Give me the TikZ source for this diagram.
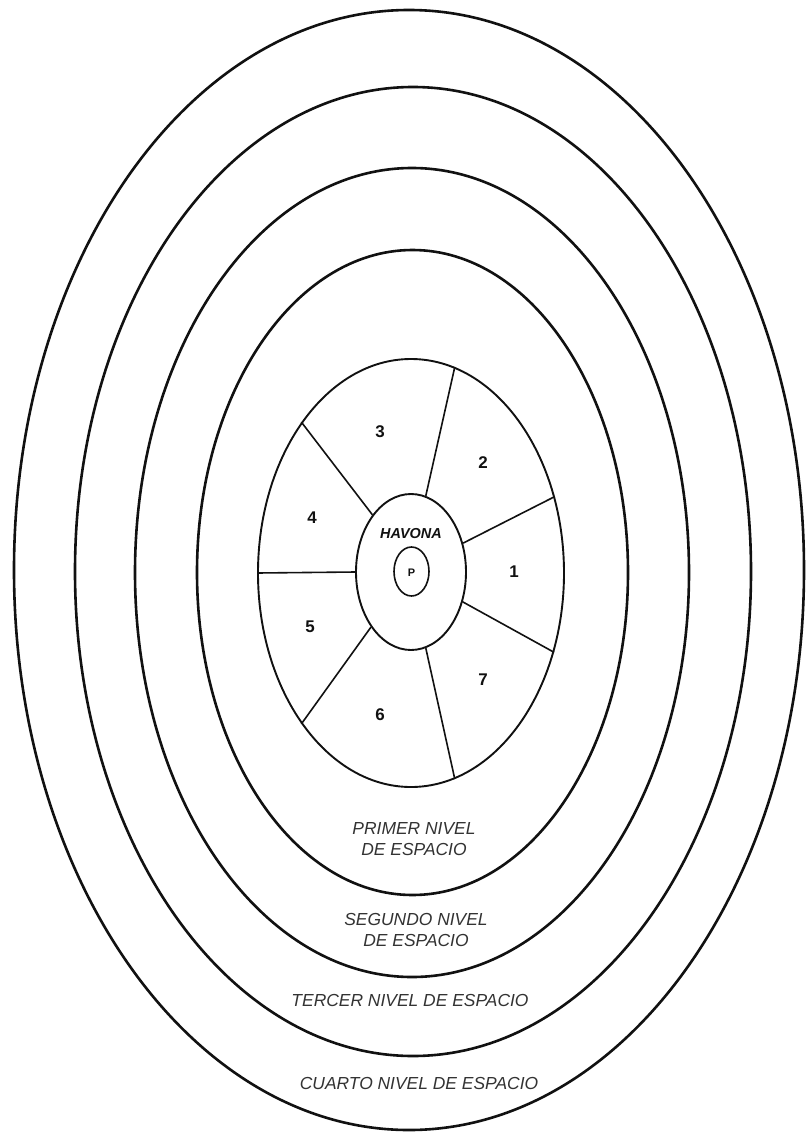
\documentclass[tikz,border=0pt]{standalone}
\usepackage{fontspec}
\setmainfont{Liberation Sans}
\usetikzlibrary{shapes.geometric}
\definecolor{ink}{HTML}{111111}
\definecolor{labelgray}{HTML}{333333}
\begin{document}
\begin{tikzpicture}[x=1bp,y=-1bp,
  ring/.style={draw=ink, ellipse, inner sep=0pt, line width=2.6bp},
  inner ring/.style={draw=ink, ellipse, inner sep=0pt, line width=1.9bp},
  divider/.style={draw=ink, line width=1.6bp},
  num/.style={font=\fontsize{17}{17}\selectfont\bfseries, text=ink},
  level/.style={font=\fontsize{17.5}{20.5}\selectfont\itshape, text=labelgray, align=center}
]
\useasboundingbox (0,0) rectangle (806,1133);
\fill[white] (0,0) rectangle (806,1133);

% space levels
\node[ring, minimum width=790bp, minimum height=1120bp] (ring1) at (409,570) {};
\node[ring, minimum width=676bp, minimum height=969bp] (ring2) at (413,571.5) {};
\node[ring, minimum width=554bp, minimum height=809bp] (ring3) at (412,572.5) {};
\node[ring, minimum width=431bp, minimum height=645bp] (ring4) at (412.5,572.5) {};

% superuniverses
\node[inner ring, minimum width=306bp, minimum height=428bp] (sector) at (411,573) {};
\node[inner ring, minimum width=110bp, minimum height=156bp] (havona) at (411,572) {};
\node[inner ring, minimum width=35bp, minimum height=49bp, line width=1.6bp] (paradise) at (411.5,571.5) {};

% dividers
\draw[divider] (havona.79) -- (sector.78);
\draw[divider] (havona.29) -- (sector.28.5);
\draw[divider] (havona.-30) -- (sector.-29.7);
\draw[divider] (havona.-79) -- (sector.-78.8);
\draw[divider] (havona.-126.6) -- (sector.-126);
\draw[divider] (havona.180) -- (sector.180);
\draw[divider] (havona.124.4) -- (sector.126.2);

% sector numbers
\node[num] (n1) at (514,572) {1};
\node[num] (n2) at (483,463) {2};
\node[num] (n3) at (380,432) {3};
\node[num] (n4) at (312,518) {4};
\node[num] (n5) at (310,627) {5};
\node[num] (n6) at (380,715) {6};
\node[num] (n7) at (483,680) {7};

\node[font=\fontsize{14.5}{14.5}\selectfont\bfseries\itshape, text=ink] (hav) at (411,534) {HAVONA};
\node[font=\fontsize{11}{11}\selectfont\bfseries, text=ink] (p) at (411.5,573) {P};

% level labels
\node[level] (l1) at (414,839) {PRIMER NIVEL\\DE ESPACIO};
\node[level] (l2) at (416,930) {SEGUNDO NIVEL\\DE ESPACIO};
\node[level] (l3) at (410,1000) {TERCER NIVEL DE ESPACIO};
\node[level] (l4) at (419,1083) {CUARTO NIVEL DE ESPACIO};
\end{tikzpicture}
\end{document}
